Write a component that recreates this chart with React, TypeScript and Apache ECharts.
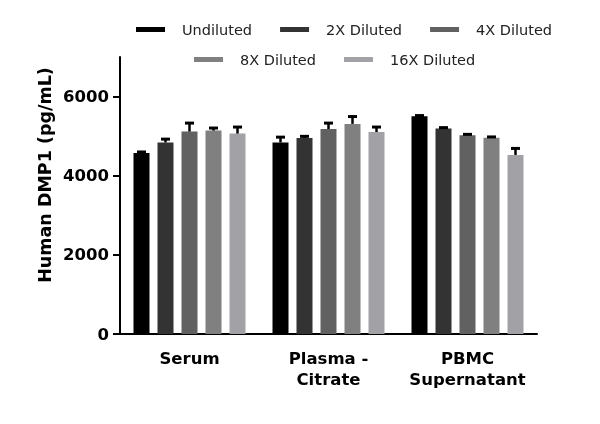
import { useEffect, useRef } from 'react';
import * as echarts from 'echarts';

const categories = ['Serum', 'Plasma -\nCitrate', 'PBMC\nSupernatant'];
const seriesNames = ['Undiluted', '2X Diluted', '4X Diluted', '8X Diluted', '16X Diluted'];
const seriesColors = ['#000000', '#333333', '#616161', '#808080', '#a2a2a6'];

// mean values per sample type (Serum, Plasma - Citrate, PBMC Supernatant)
const undilutedMeans = [4575, 4840, 5500];
const dil2Means = [4840, 4955, 5190];
const dil4Means = [5115, 5180, 5020];
const dil8Means = [5140, 5310, 4960];
const dil16Means = [5065, 5105, 4525];

// upper error bar size (SD)
const undilutedErr = [50, 160, 45];
const dil2Err = [110, 65, 50];
const dil4Err = [240, 175, 50];
const dil8Err = [90, 210, 45];
const dil16Err = [190, 150, 190];

const yTicks = [0, 2000, 4000, 6000];

const FONT = "'DejaVu Sans', sans-serif";

export default function App() {
  const chartRef = useRef<HTMLDivElement>(null);

  useEffect(() => {
    if (!chartRef.current) return;
    const chart = echarts.init(chartRef.current, undefined, { renderer: 'svg' });

    const means = [undilutedMeans, dil2Means, dil4Means, dil8Means, dil16Means];
    const errs = [undilutedErr, dil2Err, dil4Err, dil8Err, dil16Err];

    const errData: number[][] = [];
    means.forEach((m, s) => {
      m.forEach((v, c) => errData.push([c, s, v, errs[s][c]]));
    });

    const barSeries: echarts.BarSeriesOption[] = seriesNames.map((name, i) => ({
      name,
      type: 'bar',
      data: means[i],
      barWidth: 16,
      barGap: '50%',
      itemStyle: { color: seriesColors[i] },
    }));

    const legendBase = {
      icon: 'rect',
      itemWidth: 29,
      itemHeight: 5,
      itemGap: 28,
      padding: 0,
      selectedMode: false,
      textStyle: { color: '#222', fontSize: 14.5, fontFamily: FONT, padding: [0, 0, 0, 12] },
    };

    const option: echarts.EChartsOption = {
      animation: false,
      legend: [
        { ...legendBase, data: seriesNames.slice(0, 3), left: 136, top: 22 },
        { ...legendBase, data: seriesNames.slice(3), left: 194, top: 52 },
      ] as any,
      grid: { left: 120, right: 63, top: 57, bottom: 90 },
      xAxis: {
        type: 'category',
        data: categories,
        axisLine: { lineStyle: { color: '#000', width: 2 } },
        axisTick: { alignWithLabel: true, length: 7, lineStyle: { color: '#000', width: 2 } },
        axisLabel: {
          interval: 0,
          color: '#000',
          fontSize: 16.5,
          fontWeight: 'bold',
          fontFamily: FONT,
          lineHeight: 21,
          margin: 14,
        },
      },
      yAxis: {
        type: 'value',
        min: 0,
        max: 7000,
        interval: 1000,
        splitLine: { show: false },
        axisLine: { show: true, lineStyle: { color: '#000', width: 2 } },
        axisTick: { show: true, length: 7, customValues: yTicks, lineStyle: { color: '#000', width: 2 } },
        axisLabel: {
          customValues: yTicks,
          formatter: (v: number) => String(v),
          color: '#000',
          fontSize: 16.5,
          fontWeight: 'bold',
          fontFamily: FONT,
          margin: 11,
        },
      },
      graphic: [
        {
          type: 'text',
          x: 45,
          y: 175,
          rotation: Math.PI / 2,
          style: {
            text: 'Human DMP1 (pg/mL)',
            fill: '#000',
            font: `bold 17.5px ${FONT}`,
            textAlign: 'center',
            textVerticalAlign: 'middle',
          },
        },
      ],
      series: [
        ...barSeries,
        {
          type: 'custom',
          name: 'errors',
          z: 5,
          data: errData,
          renderItem: (_params: any, api: any) => {
            const c = api.value(0);
            const s = api.value(1);
            const m = api.value(2);
            const e = api.value(3);
            const base = api.coord([c, m]);
            const top = api.coord([c, m + e]);
            const x = base[0] + (s - 2) * 24;
            return {
              type: 'group',
              children: [
                {
                  type: 'line',
                  shape: { x1: x, y1: base[1], x2: x, y2: top[1] },
                  style: { stroke: '#000', lineWidth: 2.5 },
                },
                {
                  type: 'line',
                  shape: { x1: x - 4.5, y1: top[1] + 1, x2: x + 4.5, y2: top[1] + 1 },
                  style: { stroke: '#000', lineWidth: 3 },
                },
              ],
            };
          },
        },
      ],
    };

    chart.setOption(option);
    return () => chart.dispose();
  }, []);

  return <div ref={chartRef} style={{ position: 'fixed', left: 0, top: 0, width: 600, height: 424 }} />;
}
